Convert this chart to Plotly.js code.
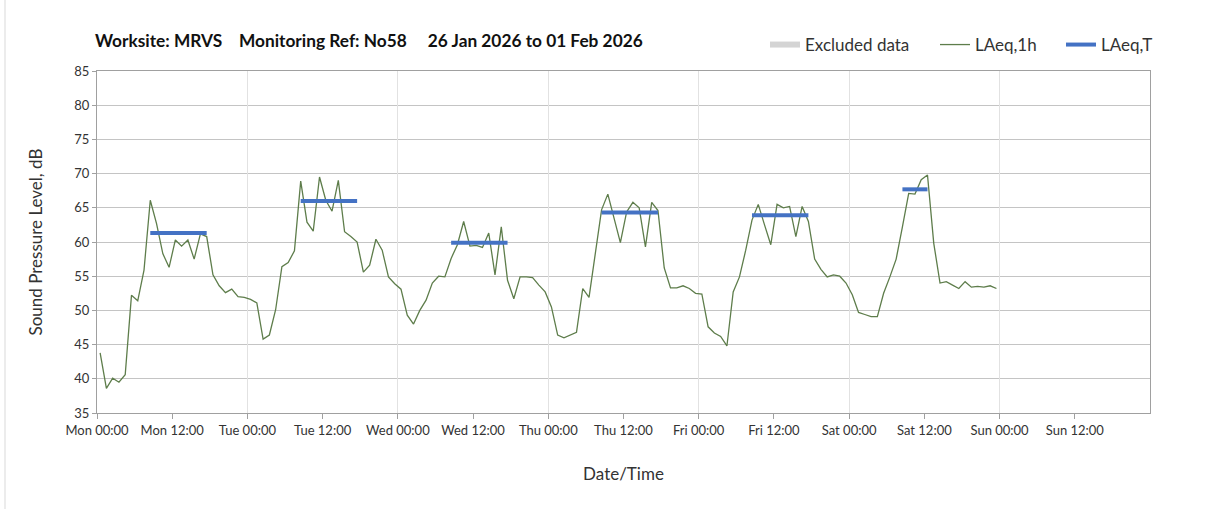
<!DOCTYPE html>
<html>
<head>
<meta charset="utf-8">
<script src="https://cdn.plot.ly/plotly-3.0.1.min.js"></script>
<style>
html,body{margin:0;padding:0;background:#fff;}
#chart{width:1208px;height:509px;}
</style>
</head>
<body>
<div id="chart"></div>
<script>
// Hourly LAeq,1h values (dB), one array per day, first value at 00:30
const laeq1hMon = [43.8, 38.6, 40.1, 39.5, 40.6, 52.2, 51.4, 55.9, 66.1, 62.7, 58.3, 56.3, 60.3, 59.4, 60.3, 57.5, 61.2, 60.8, 55.2, 53.6, 52.6, 53.1, 52.0, 51.9];
const laeq1hTue = [51.6, 51.1, 45.8, 46.4, 50.1, 56.4, 57.0, 58.7, 68.9, 62.9, 61.6, 69.5, 66.1, 64.5, 69.0, 61.5, 60.8, 60.0, 55.6, 56.6, 60.4, 58.8, 54.9, 53.9];
const laeq1hWed = [53.1, 49.3, 48.0, 50.0, 51.5, 54.0, 55.0, 54.9, 57.6, 59.6, 63.0, 59.4, 59.5, 59.2, 61.3, 55.2, 62.2, 54.4, 51.7, 54.9, 54.9, 54.8, 53.7, 52.7];
const laeq1hThu = [50.5, 46.4, 46.0, 46.4, 46.8, 53.2, 51.9, 58.3, 64.7, 67.0, 63.5, 59.9, 64.4, 65.8, 65.0, 59.3, 65.8, 64.6, 56.2, 53.3, 53.3, 53.6, 53.2, 52.5];
const laeq1hFri = [52.4, 47.6, 46.7, 46.2, 44.8, 52.7, 54.9, 58.8, 63.2, 65.5, 62.5, 59.6, 65.5, 65.0, 65.2, 60.8, 65.2, 63.0, 57.5, 56.0, 54.9, 55.2, 55.0, 54.0];
const laeq1hSat = [52.3, 49.7, 49.4, 49.1, 49.1, 52.5, 54.9, 57.5, 62.2, 67.1, 67.0, 69.1, 69.8, 59.8, 54.0, 54.2, 53.7, 53.2, 54.2, 53.4, 53.5, 53.4, 53.6, 53.2];
const dayDates = ['2026-01-26', '2026-01-27', '2026-01-28', '2026-01-29', '2026-01-30', '2026-01-31'];

// LAeq,T working-period averages
const periodStart = ['2026-01-26 08:30', '2026-01-27 08:30', '2026-01-28 08:30', '2026-01-29 08:30', '2026-01-30 08:30', '2026-01-31 08:30'];
const periodEnd   = ['2026-01-26 17:30', '2026-01-27 17:30', '2026-01-28 17:30', '2026-01-29 17:30', '2026-01-30 17:30', '2026-01-31 12:30'];
const periodValue = [61.3, 66.0, 59.9, 64.3, 63.9, 67.7];

// Axis ticks
const xTickVals = ['2026-01-26 00:00', '2026-01-26 12:00', '2026-01-27 00:00', '2026-01-27 12:00', '2026-01-28 00:00', '2026-01-28 12:00', '2026-01-29 00:00', '2026-01-29 12:00', '2026-01-30 00:00', '2026-01-30 12:00', '2026-01-31 00:00', '2026-01-31 12:00', '2026-02-01 00:00', '2026-02-01 12:00'];
const xTickText = ['Mon 00:00', 'Mon 12:00', 'Tue 00:00', 'Tue 12:00', 'Wed 00:00', 'Wed 12:00', 'Thu 00:00', 'Thu 12:00', 'Fri 00:00', 'Fri 12:00', 'Sat 00:00', 'Sat 12:00', 'Sun 00:00', 'Sun 12:00'];
const xRange = ['2026-01-26 00:00', '2026-02-02 00:00'];
const yRange = [35, 85];

// Build hourly series
const dailyArrays = [laeq1hMon, laeq1hTue, laeq1hWed, laeq1hThu, laeq1hFri, laeq1hSat];
const hourX = [], hourY = [];
dailyArrays.forEach(function (arr, d) {
  arr.forEach(function (v, h) {
    hourX.push(dayDates[d] + ' ' + String(h).padStart(2, '0') + ':30');
    hourY.push(v);
  });
});
const perX = [], perY = [];
periodValue.forEach(function (v, i) {
  perX.push(periodStart[i], periodEnd[i], null);
  perY.push(v, v, null);
});

const FONT = 'Lato, "Open Sans", sans-serif';

const traces = [
  {
    type: 'scatter', mode: 'none', fill: 'toself', fillcolor: '#d4d4d4',
    name: 'Excluded data', x: [null], y: [null], legend: 'legend', hoverinfo: 'skip'
  },
  {
    type: 'scatter', mode: 'lines', name: 'LAeq,1h', x: hourX, y: hourY, legend: 'legend2',
    line: {color: '#5e7d4b', width: 1.3}
  },
  {
    type: 'scatter', mode: 'lines', name: 'LAeq,T', x: perX, y: perY, xaxis: 'x2', legend: 'legend3',
    line: {color: '#4472c4', width: 4}
  }
];

const titleText = '<b>Worksite: MRVS&nbsp;&nbsp;&nbsp; Monitoring Ref: No58&nbsp;&nbsp;&nbsp;&nbsp; 26 Jan 2026 to 01 Feb 2026</b>';

function legendAt(px) {
  return {
    orientation: 'h', x: (px - 97) / 1053, xanchor: 'left', y: 1.076, yanchor: 'middle',
    font: {family: FONT, size: 17, color: '#333333'},
    bgcolor: 'rgba(0,0,0,0)'
  };
}

const layout = {
  width: 1208, height: 509,
  margin: {l: 97, r: 58, t: 71, b: 96},
  paper_bgcolor: '#ffffff', plot_bgcolor: '#ffffff',
  font: {family: FONT, size: 13, color: '#333333'},
  showlegend: true,
  title: {
    text: titleText,
    x: 95 / 1208, xanchor: 'left', xref: 'container',
    y: 1 - 41 / 509, yanchor: 'middle', yref: 'container',
    font: {family: FONT, size: 17.3, color: '#111111'}
  },
  legend: legendAt(765),
  legend2: legendAt(935),
  legend3: legendAt(1061),
  xaxis: {
    type: 'date', range: xRange,
    tickvals: xTickVals, ticktext: xTickText,
    ticks: 'outside', ticklen: 5, tickcolor: '#a0a0a0',
    showgrid: false, zeroline: false,
    showline: true, linecolor: '#a0a0a0', linewidth: 1, mirror: true,
    tickfont: {family: FONT, size: 13, color: '#333333'},
    title: {text: 'Date/Time', font: {family: FONT, size: 17, color: '#333333'}, standoff: 31}
  },
  xaxis2: {
    type: 'date', range: xRange, overlaying: 'x', anchor: 'y',
    dtick: 86400000, tick0: '2026-01-26 00:00',
    showgrid: true, gridcolor: '#e2e2e2', gridwidth: 1,
    showticklabels: false, ticks: '', showline: false, zeroline: false
  },
  yaxis: {
    range: yRange, dtick: 5, tick0: 35,
    ticks: 'outside', ticklen: 4, tickcolor: '#a0a0a0',
    showgrid: true, gridcolor: '#c4c4c4', gridwidth: 1, zeroline: false,
    showline: true, linecolor: '#a0a0a0', linewidth: 1, mirror: true,
    tickfont: {family: FONT, size: 13, color: '#333333'},
    title: {text: 'Sound Pressure Level, dB', font: {family: FONT, size: 17, color: '#333333'}, standoff: 27}
  },
  shapes: [
    {type: 'line', xref: 'paper', yref: 'paper', x0: (5 - 97) / 1053, x1: (5 - 97) / 1053, y0: -96 / 342, y1: 1 + 71 / 342, line: {color: '#d9d9d9', width: 1}}
  ]
};

Plotly.newPlot('chart', traces, layout, {displayModeBar: false, staticPlot: true});
</script>
</body>
</html>
